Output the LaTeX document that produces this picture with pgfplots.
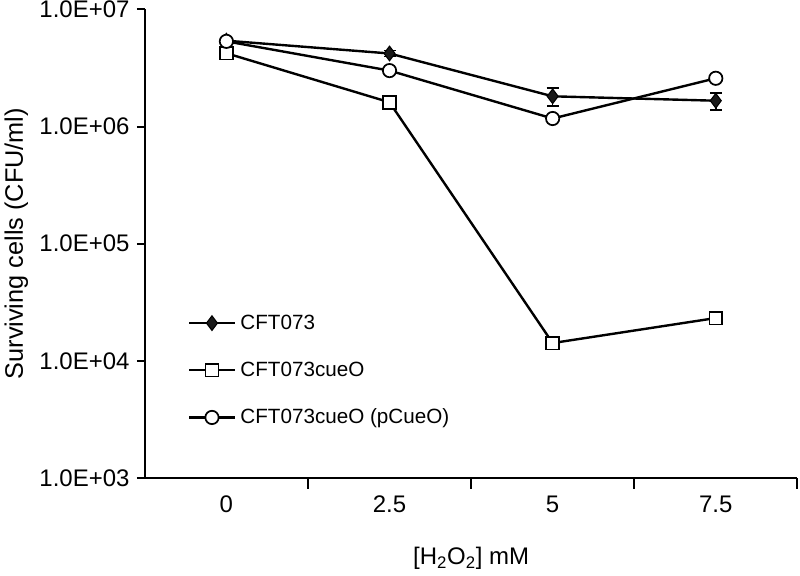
\documentclass[border=0pt]{standalone}
\usepackage{pgfplots}
\pgfplotsset{compat=1.18}
\usepackage{fontspec}
\setmainfont{Liberation Sans}
\begin{document}
\begin{tikzpicture}
\begin{axis}[
  scale only axis, width=490pt, height=352pt,
  xmin=-0.5, xmax=3.5, ymode=log, ymin=1e3, ymax=1e7,
  axis x line*=bottom, axis y line*=left,
  axis line style={line width=1.5pt,-},
  xtick={0,1,2,3}, xticklabels={0,2.5,5,7.5},
  major x tick style={draw=none},
  minor xtick={0.5,1.5,2.5,3.5},
  minor x tick style={line width=1.5pt, black},
  minor tick length=8pt,
  ytick={1e3,1e4,1e5,1e6,1e7},
  yticklabels={1.0E+03,1.0E+04,1.0E+05,1.0E+06,1.0E+07},
  yminorticks=false,
  y tick style={line width=1.5pt, black},
  major tick length=6pt,
  tick align=outside,
  tick label style={font=\fontsize{18}{21}\selectfont},
  xticklabel style={yshift=-4pt},
  yticklabel style={xshift=-2pt},
  xlabel={[H\textsubscript{2}O\textsubscript{2}] mM},
  ylabel={Surviving cells (CFU/ml)},
  every axis x label/.style={at={(axis description cs:0.5,-0.171)}, anchor=center, font=\fontsize{18}{21}\selectfont},
  every axis y label/.style={at={(axis description cs:-0.197,0.5)}, anchor=center, rotate=90, font=\fontsize{19}{23}\selectfont},
  legend style={draw=none, fill=none, at={(0.066,0.36)}, anchor=north west,
    font=\fontsize{15.5}{18}\selectfont, row sep=19pt, column sep=1.5pt, inner xsep=0pt},
  legend cell align=left,
  legend image code/.code={\draw[mark repeat=2, mark phase=2, #1] plot coordinates {(0pt,0pt) (17pt,0pt) (34pt,0pt)};},
  clip=false,
]
\addplot[black, line width=1.8pt, mark=diamond*, mark size=5.5pt, mark options={fill=black!90, line width=0.8pt},
  error bars/.cd, y dir=both, y explicit,
  error bar style={line width=1.2pt, black},
  error mark options={rotate=90, mark size=4.5pt, line width=1.2pt, black}]
  coordinates {(0,5.4e6) +- (0,0) (1,4.2e6) +- (0,0.25e6) (2,1.81e6) +- (0,0.32e6) (3,1.66e6) +- (0,0.27e6)};
\addlegendentry{CFT073}
\addplot[black, line width=1.8pt, mark=square*, mark size=4.8pt, mark options={fill=white, line width=1.3pt}]
  coordinates {(0,4.22e6) (1,1.61e6) (2,1.42e4) (3,2.32e4)};
\addlegendentry{CFT073cueO}
\addplot[black, line width=1.8pt, mark=*, mark size=5pt, mark options={fill=white, line width=1.3pt}]
  coordinates {(0,5.33e6) (1,3.0e6) (2,1.17e6) (3,2.58e6)};
\addlegendentry{CFT073cueO (pCueO)}
\end{axis}
\pgfresetboundingbox
\path (current axis.south west) ++(-108.75pt,-73.5pt) coordinate (bbA);
\path (current axis.north east) ++(2pt,7pt) coordinate (bbB);
\path[use as bounding box] (bbA) rectangle (bbB);
\end{tikzpicture}
\end{document}
